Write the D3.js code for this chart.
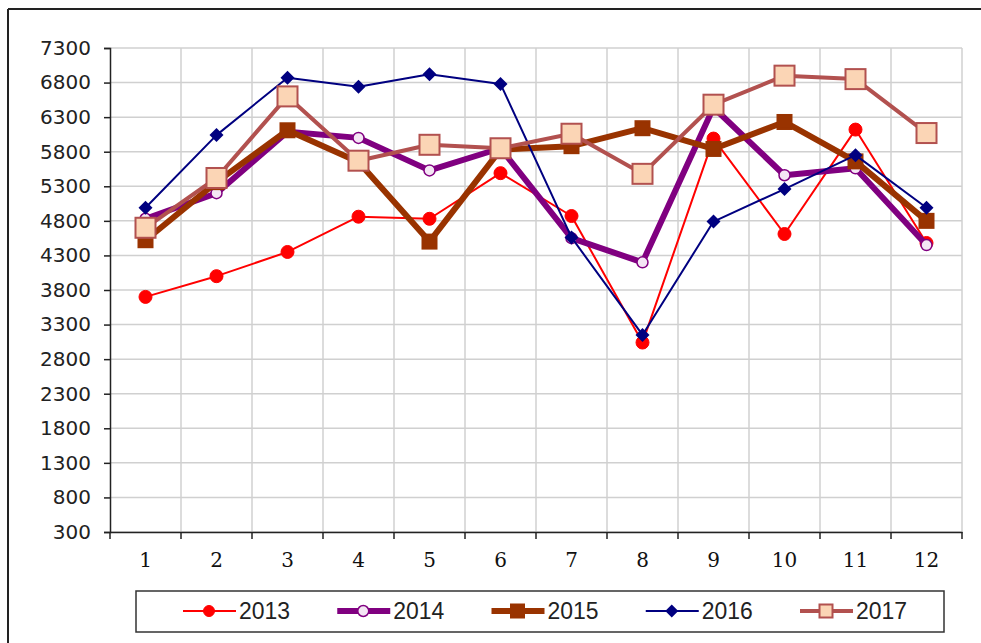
<!DOCTYPE html>
<html>
<head>
<meta charset="utf-8">
<script src="https://cdn.jsdelivr.net/npm/d3@7"></script>
<style>
  body { margin: 0; background: #fff; }
  svg { display: block; }
  .yax text { font-family: "DejaVu Sans"; font-size: 20px; fill: #222; }
  .xax text { font-family: "DejaVu Serif"; font-size: 20px; fill: #111; }
  .leg text { font-family: "Liberation Sans Narrow", "Liberation Sans"; font-size: 23px; fill: #222; }
</style>
</head>
<body>
<svg width="981" height="643"></svg>
<script>
var months = [1, 2, 3, 4, 5, 6, 7, 8, 9, 10, 11, 12];
var yTicks = [300, 800, 1300, 1800, 2300, 2800, 3300, 3800, 4300, 4800, 5300, 5800, 6300, 6800, 7300];

var v2013 = [3700, 4000, 4350, 4860, 4830, 5490, 4870, 3040, 5990, 4610, 6120, 4480];
var v2014 = [4830, 5200, 6090, 6000, 5530, 5850, 4550, 4200, 6440, 5460, 5560, 4450];
var v2015 = [4520, 5360, 6110, 5650, 4500, 5830, 5880, 6140, 5840, 6230, 5660, 4800];
var v2016 = [4990, 6040, 6870, 6740, 6920, 6780, 4560, 3150, 4790, 5260, 5750, 4990];
var v2017 = [4700, 5420, 6600, 5670, 5900, 5850, 6060, 5480, 6480, 6900, 6850, 6070];

var seriesNames = ["2013", "2014", "2015", "2016", "2017"];
var seriesValues = [v2013, v2014, v2015, v2016, v2017];

var styles = [
  { stroke: "#ff0000", width: 2, marker: "circle", size: 13, fill: "#ff0000", mstroke: "#ff0000" },
  { stroke: "#800080", width: 6, marker: "ocircle", size: 11, fill: "#f4e6f4", mstroke: "#800080" },
  { stroke: "#993300", width: 6, marker: "square", size: 14, fill: "#993300", mstroke: "#993300" },
  { stroke: "#000080", width: 2, marker: "diamond", size: 14, fill: "#000080", mstroke: "#000080" },
  { stroke: "#b2514f", width: 4, marker: "square", size: 20, fill: "#fbd5b5", mstroke: "#b2514f" }
];

var svg = d3.select("svg");

// outer frame
svg.append("line").attr("x1", 8).attr("x2", 981).attr("y1", 9).attr("y2", 9)
    .attr("stroke", "#222").attr("stroke-width", 2);
svg.append("line").attr("x1", 8).attr("x2", 8).attr("y1", 9).attr("y2", 643)
    .attr("stroke", "#222").attr("stroke-width", 2);

var plotLeft = 110, plotRight = 962, plotTop = 48, plotBottom = 532;

var x = d3.scaleBand().domain(months).range([plotLeft, plotRight]);
var y = d3.scaleLinear().domain([300, 7300]).range([plotBottom, plotTop]);

// grid
var grid = svg.append("g");
grid.selectAll("line.h")
  .data(yTicks)
  .enter().append("line")
    .attr("class", "h")
    .attr("x1", plotLeft).attr("x2", plotRight)
    .attr("y1", function(d) { return y(d); })
    .attr("y2", function(d) { return y(d); })
    .attr("stroke", "#d0d0d0").attr("stroke-width", 1.5);
grid.selectAll("line.v")
  .data(months.slice(1).concat(["end"]))
  .enter().append("line")
    .attr("class", "v")
    .attr("x1", function(d) { return d == "end" ? plotRight : x(d); })
    .attr("x2", function(d) { return d == "end" ? plotRight : x(d); })
    .attr("y1", plotTop).attr("y2", plotBottom)
    .attr("stroke", "#d0d0d0").attr("stroke-width", 1.5);

// y axis
var yAxis = svg.append("g")
    .attr("class", "yax")
    .attr("transform", "translate(" + plotLeft + ",0)")
    .call(d3.axisLeft(y).tickValues(yTicks).tickFormat(d3.format("d")).tickSize(6).tickPadding(13));
yAxis.attr("font-size", null).attr("font-family", null);
yAxis.select(".domain").attr("stroke", "#222").attr("stroke-width", 1.5);
yAxis.selectAll(".tick line").attr("stroke", "#222").attr("stroke-width", 1.5);

// x axis
var xAxis = svg.append("g")
    .attr("class", "xax")
    .attr("transform", "translate(0," + plotBottom + ")")
    .call(d3.axisBottom(x).tickSize(0).tickPadding(21));
xAxis.attr("font-size", null).attr("font-family", null);
xAxis.select(".domain").attr("stroke", "#222").attr("stroke-width", 1.5);
xAxis.selectAll("line.bt")
  .data(months.concat(["end"]))
  .enter().append("line")
    .attr("class", "bt")
    .attr("x1", function(d) { return d == "end" ? plotRight : x(d); })
    .attr("x2", function(d) { return d == "end" ? plotRight : x(d); })
    .attr("y1", 0).attr("y2", 7)
    .attr("stroke", "#222").attr("stroke-width", 1.5);

function cx(i) { return x(months[i]) + x.bandwidth() / 2; }

function drawMarker(g, st, px, py) {
  if (st.marker == "circle" || st.marker == "ocircle") {
    g.append("circle").attr("cx", px).attr("cy", py).attr("r", st.size / 2)
      .attr("fill", st.fill).attr("stroke", st.mstroke)
      .attr("stroke-width", st.marker == "ocircle" ? 1.5 : 1);
  } else if (st.marker == "square") {
    g.append("rect")
      .attr("x", px - st.size / 2).attr("y", py - st.size / 2)
      .attr("width", st.size).attr("height", st.size)
      .attr("fill", st.fill).attr("stroke", st.mstroke).attr("stroke-width", 2);
  } else if (st.marker == "diamond") {
    var h = st.size / 2;
    g.append("path")
      .attr("d", "M" + px + "," + (py - h) + "L" + (px + h) + "," + py +
                 "L" + px + "," + (py + h) + "L" + (px - h) + "," + py + "Z")
      .attr("fill", st.fill);
  }
}

var line = d3.line()
    .x(function(d, i) { return cx(i); })
    .y(function(d) { return y(d); });

seriesValues.forEach(function(vals, k) {
  var st = styles[k];
  var g = svg.append("g").attr("class", "series");
  g.append("path")
    .attr("d", line(vals))
    .attr("fill", "none")
    .attr("stroke", st.stroke)
    .attr("stroke-width", st.width)
    .attr("stroke-linejoin", "round");
  vals.forEach(function(v, i) {
    drawMarker(g, st, cx(i), y(v));
  });
});

// legend
var legend = svg.append("g").attr("class", "leg");
legend.append("rect")
    .attr("x", 136).attr("y", 591).attr("width", 808).attr("height", 41)
    .attr("fill", "#fff").attr("stroke", "#333").attr("stroke-width", 1.5);

var legendX = d3.scalePoint().domain(seriesNames).range([183, 800]);
seriesNames.forEach(function(name, k) {
  var st = styles[k];
  var lx = legendX(name), ly = 611;
  var item = legend.append("g");
  item.append("line")
    .attr("x1", lx).attr("x2", lx + 53).attr("y1", ly).attr("y2", ly)
    .attr("stroke", st.stroke).attr("stroke-width", st.width);
  var ms = Object.assign({}, st, { size: Math.min(st.size, 13) });
  if (st.marker == "circle") ms.size = 11;
  drawMarker(item, ms, lx + 26, ly);
  item.append("text")
    .attr("x", lx + 56).attr("y", ly + 8)
    .attr("textLength", 51)
    .attr("lengthAdjust", "spacingAndGlyphs")
    .text(name);
});
</script>
</body>
</html>
